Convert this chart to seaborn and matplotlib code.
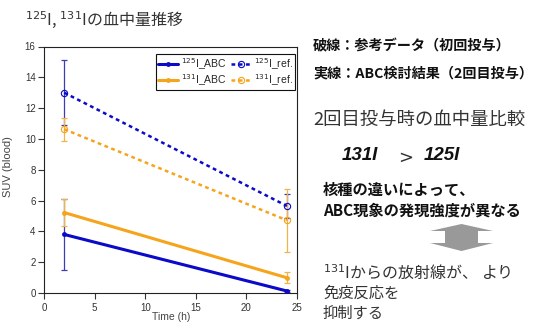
import matplotlib
matplotlib.use("Agg")
import matplotlib.pyplot as plt
from matplotlib.patches import Polygon
import seaborn as sns
import pandas as pd

# Sampling times (h)
times = [2, 24]

# SUV (blood), mean and error for each series
abc125 = [3.8, 0.13]
abc125_err = [2.3, 0.05]
abc131 = [5.22, 0.99]
abc131_err = [0.9, 0.37]
ref125 = [13.0, 5.65]
ref125_err = [2.1, 0.8]
ref131 = [10.63, 4.72]
ref131_err = [0.75, 2.03]

series_names = ["$^{125}$I_ABC", "$^{131}$I_ABC", "$^{125}$I_ref.", "$^{131}$I_ref."]

x_ticks = [0, 5, 10, 15, 20, 25]
y_ticks = [0, 2, 4, 6, 8, 10, 12, 14, 16]

BLUE = "#0a0ac8"
ORANGE = "#f5a41c"
BLUE_ERR = "#3c3cb4"
ORANGE_ERR = "#f0b448"

sns.set_theme(style="ticks")
plt.rcParams["font.family"] = ["Noto Sans CJK JP", "DejaVu Sans"]
NARROW = ["Liberation Sans Narrow", "Liberation Sans", "DejaVu Sans"]

W, H = 548, 323
fig = plt.figure(figsize=(W / 100, H / 100), dpi=100)
ax = fig.add_axes([44 / W, 1 - 293 / H, (297 - 44) / W, (293 - 46.5) / H])


def fx(px):
    return px / W


def fy(py):
    return 1 - py / H


df = pd.DataFrame({
    "time": times * 4,
    "suv": abc125 + abc131 + ref125 + ref131,
    "series": [s for s in series_names for _ in times],
})

styles = {
    series_names[0]: dict(color=BLUE, ls="-", lw=2.2, marker="o", ms=3.5, mfc=BLUE, mew=0),
    series_names[1]: dict(color=ORANGE, ls="-", lw=2.2, marker="o", ms=3.5, mfc=ORANGE, mew=0),
    series_names[2]: dict(color=BLUE, ls=(0, (1.5, 1.4)), lw=1.8, marker="o", ms=4.5, mfc="none", mew=0.8),
    series_names[3]: dict(color=ORANGE, ls=(0, (1.5, 1.4)), lw=1.8, marker="o", ms=4.5, mfc="none", mew=0.8),
}
errs = {
    series_names[0]: (abc125_err, BLUE_ERR),
    series_names[1]: (abc131_err, ORANGE_ERR),
    series_names[2]: (ref125_err, BLUE_ERR),
    series_names[3]: (ref131_err, ORANGE_ERR),
}

for name in series_names:
    sub = df[df["series"] == name]
    err, ecol = errs[name]
    ax.errorbar(sub["time"], sub["suv"], yerr=err, fmt="none", ecolor=ecol,
                elinewidth=0.9, capsize=2.5, capthick=0.9, zorder=2)
    st = styles[name]
    sns.lineplot(data=sub, x="time", y="suv", ax=ax, color=st["color"],
                 linestyle=st["ls"], linewidth=st["lw"], marker=st["marker"],
                 markersize=st["ms"], markerfacecolor=st["mfc"],
                 markeredgecolor=st["color"], markeredgewidth=st["mew"],
                 label=name, errorbar=None, zorder=3)

ax.set_xlim(0, 25)
ax.set_ylim(0, 16)
ax.set_xticks(x_ticks)
ax.set_yticks(y_ticks)
ax.set_xlabel("")
ax.set_ylabel("")
for sp in ax.spines.values():
    sp.set_linewidth(0.8)
    sp.set_color("#222222")
ax.tick_params(direction="out", length=4.5, width=0.8, color="#333333",
               labelsize=7, labelcolor="#333333")
ax.tick_params(axis="y", pad=1.5)
ax.tick_params(axis="x", pad=2.5)
for lab in ax.get_xticklabels() + ax.get_yticklabels():
    lab.set_family(NARROW)

handles, labels = ax.get_legend_handles_labels()
leg = ax.legend(handles, labels, loc="upper right", ncol=2, frameon=True,
                bbox_to_anchor=(0.992, 0.97), borderaxespad=0,
                fancybox=False, framealpha=1, edgecolor="#111111",
                prop={"family": NARROW, "size": 7.5}, handlelength=1.9,
                handletextpad=0.3, columnspacing=0.4, borderpad=0.2,
                labelspacing=0.05)
leg.get_frame().set_linewidth(0.8)

# Axis titles
fig.text(fx(8), fy(167), "SUV (blood)", rotation=90, ha="center", va="center",
         fontsize=8, color="#444444", family=NARROW)
fig.text(fx(171), fy(322.5), "Time (h)", ha="center", va="bottom",
         fontsize=7.5, color="#444444", family=NARROW)

# Heading
fig.text(fx(25), fy(20), "$^{125}$I, $^{131}$Iの血中量推移", ha="left", va="center",
         fontsize=11.5, color="#333333")

# Notes on the right
TXT = "#111111"
fig.text(fx(313), fy(46), "破線：参考データ（初回投与）", ha="left", va="center",
         fontsize=10.2, fontweight="bold", color=TXT)
fig.text(fx(313), fy(73), "実線：ABC検討結果（2回目投与）", ha="left", va="center",
         fontsize=10.2, fontweight="bold", color=TXT)
fig.text(fx(313), fy(120), "2回目投与時の血中量比較", ha="left", va="center",
         fontsize=13.2, color="#333333")
fig.text(fx(342), fy(156), "131I", ha="left", va="center", fontsize=13.5,
         fontweight="bold", fontstyle="italic", family=NARROW, color=TXT)
fig.text(fx(406), fy(158), ">", ha="center", va="center", fontsize=13,
         color="#333333", family=["DejaVu Sans"])
fig.text(fx(424), fy(156), "125I", ha="left", va="center", fontsize=13.5,
         fontweight="bold", fontstyle="italic", family=NARROW, color=TXT)
fig.text(fx(323), fy(190), "核種の違いによって、", ha="left", va="center",
         fontsize=11, fontweight="bold", color=TXT)
fig.text(fx(323), fy(211), "ABC現象の発現強度が異なる", ha="left", va="center",
         fontsize=11, fontweight="bold", color=TXT)

# Up/down block arrow
arrow_px = [(461.5, 224), (493, 231), (478, 231), (478, 243), (493, 243),
            (461.5, 251), (430, 243), (445, 243), (445, 231), (430, 231)]
fig.patches.append(Polygon([(fx(a), fy(b)) for a, b in arrow_px], closed=True,
                           transform=fig.transFigure, facecolor="#999999",
                           edgecolor="none"))

fig.text(fx(323), fy(272), "$^{131}$Iからの放射線が、 より", ha="left", va="center",
         fontsize=11.5, color="#333333")
fig.text(fx(323), fy(293), "免疫反応を", ha="left", va="center",
         fontsize=11, color="#333333")
fig.text(fx(323), fy(313), "抑制する", ha="left", va="center",
         fontsize=11, color="#333333")

fig.savefig("out.png", dpi=100)
